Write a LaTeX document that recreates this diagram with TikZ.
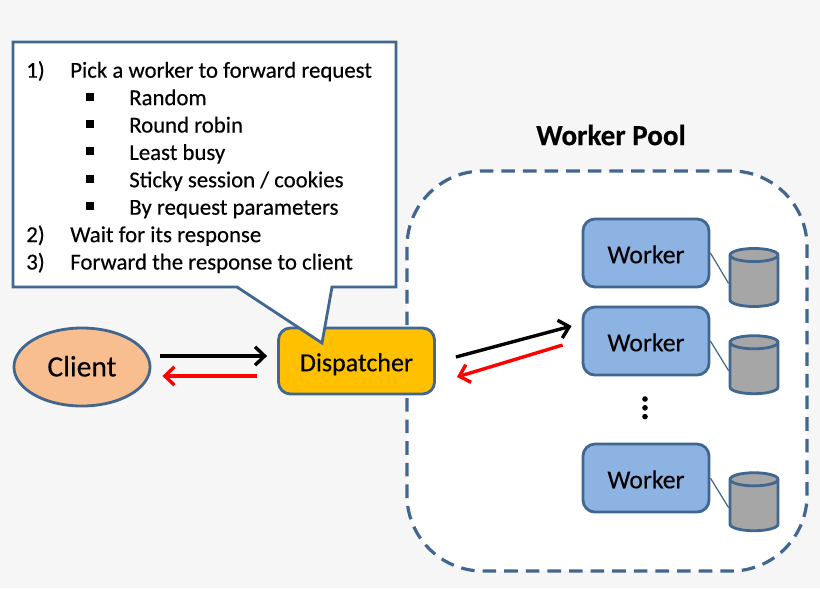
\documentclass[tikz,border=0pt]{standalone}
\usepackage{fontspec}
\setmainfont{Carlito}[FakeBold=0.35, BoldFeatures={FakeBold=0.35}]
\usepackage{tikz}
\usetikzlibrary{shapes.geometric, arrows.meta, positioning}
\definecolor{edge}{HTML}{41668F}
\definecolor{paper}{HTML}{F6F6F6}
\definecolor{workerblue}{HTML}{8DB3E2}
\definecolor{dispyellow}{HTML}{FFC000}
\definecolor{clientorange}{HTML}{F9BE8F}
\definecolor{dbgray}{HTML}{A6A6A6}
\tikzstyle{block} = [draw=edge, line width=.07cm, rectangle, rounded corners=.3cm, align=center, text height=.51cm, text depth=0pt, font=\fontsize{18.3}{20}\selectfont]
\tikzstyle{worker} = [block, fill=workerblue, minimum width=3.15cm, minimum height=1.7cm]
\tikzstyle{store} = [draw=edge, line width=.07cm, fill=dbgray, cylinder, shape border rotate=90, aspect=1.4, minimum width=1.2cm, minimum height=1.45cm]
\tikzstyle{item} = [anchor=base west, inner sep=0pt, font=\fontsize{16.2}{18}\selectfont]
\tikzstyle{bullet} = [fill=black, rectangle, inner sep=0pt, minimum size=.2cm]
\tikzstyle{dot} = [fill=black, circle, inner sep=0pt, minimum size=.14cm]
\tikzstyle{flow} = [line width=.085cm, -{Straight Barb[length=.24cm,width=.46cm]}]

\begin{document}
\begin{tikzpicture}[x=.025cm, y=-.025cm]
  \useasboundingbox[fill=paper] (0,0) rectangle (820,588);

  % pool
  \node[draw=edge, fill=white, line width=.08cm, dashed, dash pattern=on .34cm off .2cm, rounded corners=1.9cm, minimum width=10cm, minimum height=10cm] (pool) at (607,371) {};
  \node[font=\bfseries\fontsize{20.7}{22}\selectfont] (title) at (611,135) {Worker Pool};

  \node[worker] (w1) at (646,253) {Worker};
  \node[worker, below of=w1, node distance=2.2cm] (w2) {Worker};
  \node[worker, below of=w2, node distance=3.425cm] (w3) {Worker};

  \node[store, right of=w1, node distance=2.7cm, yshift=-.76cm] (d1) {};
  \node[store, right of=w2, node distance=2.7cm, yshift=-.74cm] (d2) {};
  \node[store, right of=w3, node distance=2.7cm, yshift=-.74cm] (d3) {};

  \foreach \i in {1,2,3} {
    \draw[edge, line width=.03cm] (w\i.east) -- (d\i.west);
  }

  \node[dot] (p1) at (645,399) {};
  \node[dot, below of=p1, node distance=.22cm] (p2) {};
  \node[dot, below of=p2, node distance=.22cm] (p3) {};

  % client and dispatcher
  \node[block, ellipse, fill=clientorange, minimum width=3.4cm, minimum height=1.95cm, text height=.47cm, font=\fontsize{21}{23}\selectfont] (client) at (82,367) {Client};
  \node[block, fill=dispyellow, minimum width=3.9cm, minimum height=1.65cm, font=\fontsize{18.5}{20}\selectfont] (disp) at (356.5,361) {Dispatcher};

  \draw[flow, black] ([shift={(9,-11)}]client.east) -- ([shift={(-10,-5)}]disp.west);
  \draw[flow, red] ([shift={(-20,15)}]disp.west) -- ([shift={(11,9)}]client.east);
  \draw[flow, black] ([shift={(20,-4)}]disp.east) -- ([shift={(-10,-15)}]w2.west);
  \draw[flow, red] ([shift={(-19,4)}]w2.west) -- ([shift={(21,16)}]disp.east);

  % callout
  \coordinate (tip) at (322,343);
  \draw[edge, fill=white, line width=.07cm, line join=miter] (13,42) -- (396,42) -- (396,287) -- (332,287) -- (tip) -- (237,287) -- (13,287) -- cycle;

  \node[item] (n1) at (26,77.7) {1)};
  \node[item] (t1) at (70,77.7) {Pick a worker to forward request};
  \foreach \y/\txt [count=\i] in {105.1/Random, 132.5/Round robin, 159.9/Least busy, 187.3/{Sticky session / cookies}, 214.7/By request parameters} {
    \node[bullet] (b\i) at (90,\y-8.5) {};
    \node[item] (s\i) at (129,\y) {\txt};
  }
  \node[item] (n2) at (26,242.1) {2)};
  \node[item] (t2) at (70,242.1) {Wait for its response};
  \node[item] (n3) at (26,269.5) {3)};
  \node[item] (t3) at (70,269.5) {Forward the response to client};
\end{tikzpicture}
\end{document}
